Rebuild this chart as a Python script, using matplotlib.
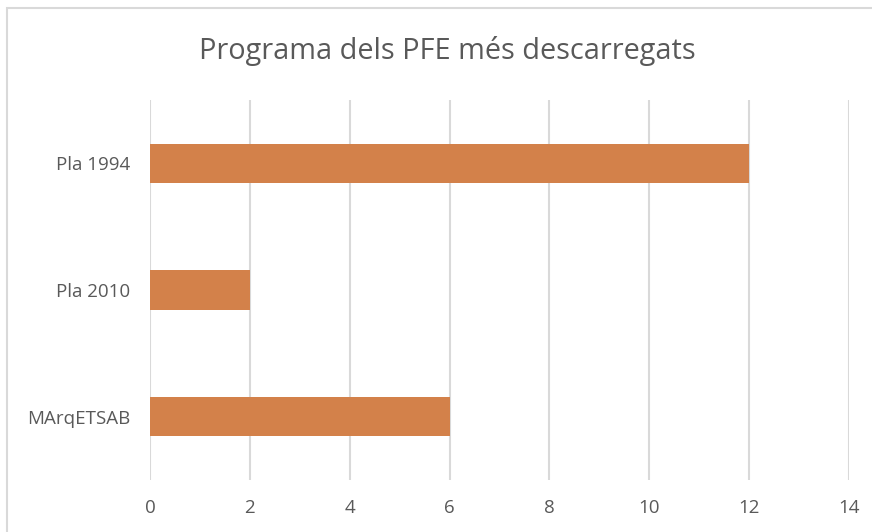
import matplotlib.pyplot as plt
from matplotlib.patches import Rectangle

# dades del gràfic
categories = ['Pla 1994', 'Pla 2010', 'MArqETSAB']
descarregues = [12, 2, 6]
xticks = [0, 2, 4, 6, 8, 10, 12, 14]

plt.rcParams['font.family'] = ['Open Sans', 'DejaVu Sans']

fig = plt.figure(figsize=(8.72, 5.32), dpi=100)
ax = fig.add_axes([150 / 872, 1 - 480 / 532, 699 / 872, 380 / 532])

pos = list(range(len(categories)))[::-1]
ax.barh(pos, descarregues, height=0.31, color='#D3814A', zorder=3)

ax.set_xlim(0, 14)
ax.set_ylim(-0.5, len(categories) - 0.5)
ax.set_xticks(xticks)
ax.set_yticks(pos)
ax.set_yticklabels(categories)
ax.grid(axis='x', color='#D9D9D9', linewidth=1.5, zorder=0)
ax.grid(axis='y', visible=False)
for s in ax.spines.values():
    s.set_visible(False)
ax.tick_params(axis='both', length=0, labelsize=13.5, labelcolor='#595959')
ax.tick_params(axis='x', pad=14)
ax.tick_params(axis='y', pad=14)

fig.text(447 / 872, 1 - 51 / 532, 'Programa dels PFE més descarregats',
         ha='center', va='center', fontsize=20.8, color='#595959')

# vora del gràfic (retallada a dreta i a baix)
fig.patches.append(Rectangle((7 / 872, -0.1), 1.1, (532 - 8) / 532 + 0.1,
                             transform=fig.transFigure, fill=False,
                             edgecolor='#D9D9D9', linewidth=1.5))

fig.savefig('out.png', dpi=100)
